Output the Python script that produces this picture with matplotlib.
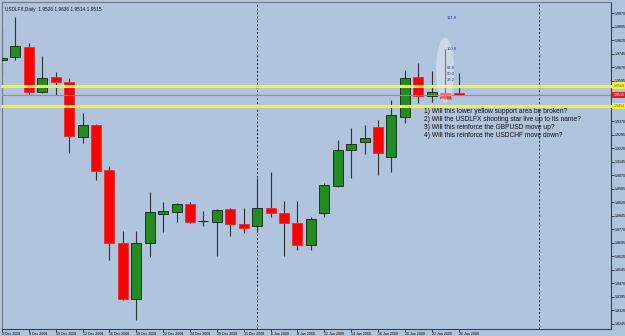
import numpy as np
import matplotlib.pyplot as plt
from matplotlib.patches import Ellipse

# daily bars, USDLFX
opens  = [1.9712, 1.9726, 1.9782, 1.9532, 1.9615, 1.9587, 1.9282, 1.9348, 1.9098, 1.8693,
          1.8382, 1.8693, 1.8854, 1.8865, 1.8909, 1.8815, 1.8809, 1.8882, 1.8798, 1.8787,
          1.8887, 1.8859, 1.8804, 1.8682, 1.8859, 1.9009, 1.9209, 1.9254, 1.9337, 1.9171,
          1.9393, 1.9615, 1.9509, 1.9526, 1.9526]
highs  = [1.9887, 1.9948, 1.9804, 1.9732, 1.9643, 1.9609, 1.9415, 1.9354, 1.9121, 1.8759,
          1.8759, 1.8976, 1.8921, 1.8915, 1.8921, 1.8871, 1.8882, 1.8887, 1.8887, 1.9054,
          1.9087, 1.8926, 1.8926, 1.8837, 1.9026, 1.9265, 1.9332, 1.9348, 1.9376, 1.9487,
          1.9654, 1.9693, 1.9648, 1.9771, 1.9636]
lows   = [1.9615, 1.9709, 1.9521, 1.9526, 1.9515, 1.9193, 1.9248, 1.9043, 1.8598, 1.8376,
          1.8265, 1.8615, 1.8754, 1.8809, 1.8804, 1.8787, 1.8621, 1.8732, 1.8748, 1.8754,
          1.8837, 1.8621, 1.8654, 1.8654, 1.8837, 1.9004, 1.9054, 1.9187, 1.9071, 1.9087,
          1.9359, 1.9471, 1.9476, 1.9493, 1.9514]
closes = [1.9723, 1.9787, 1.9532, 1.9609, 1.9587, 1.9287, 1.9348, 1.9093, 1.8693, 1.8382,
          1.8693, 1.8865, 1.8871, 1.8909, 1.8809, 1.8815, 1.8876, 1.8798, 1.8776, 1.8887,
          1.8859, 1.8804, 1.8682, 1.8826, 1.9015, 1.9209, 1.9243, 1.9276, 1.9193, 1.9404,
          1.9609, 1.9509, 1.9532, 1.9498, 1.9515]

date_labels = ['4 Dec 2008', '8 Dec 2008', '10 Dec 2008', '12 Dec 2008', '16 Dec 2008',
               '18 Dec 2008', '22 Dec 2008', '24 Dec 2008', '29 Dec 2008', '31 Dec 2008',
               '6 Jan 2009', '8 Jan 2009', '12 Jan 2009', '14 Jan 2009', '16 Jan 2009',
               '20 Jan 2009', '22 Jan 2009', '26 Jan 2009']

support_top = 1.9568
support_bottom = 1.9454
bid = 1.9515

fib_low = 1.9493
fib_high = 1.9771
fib_levels = [0.0, 38.2, 50.0, 61.8, 100.0, 161.8]

questions = ["1) Will this lower yellow support area be broken?",
             "2) Will the USDLFX shooting star live up to its name?",
             "3) Will this reinforce the GBPUSD move up?",
             "4) Will this reinforce the USDCHF move down?"]

bg = '#b0c4de'
plt.rcParams['font.family'] = ['Liberation Sans', 'DejaVu Sans']
fig = plt.figure(figsize=(6.25, 3.36), dpi=100, facecolor=bg)
ax = fig.add_axes([2/625, 7/336, 609/625, 327/336], facecolor=bg)

o = np.array(opens); c = np.array(closes)
h = np.array(highs); l = np.array(lows)
x = np.arange(len(o))

up = c > o
down = c < o
flat = c == o

ax.vlines(x, l, h, color='#303030', lw=0.8, zorder=2)
ax.bar(x[up], (c - o)[up], bottom=o[up], width=0.75, color='#228b22',
       edgecolor='#102010', lw=0.6, zorder=3)
ax.bar(x[down], (o - c)[down], bottom=c[down], width=0.75, color='#ff0000',
       edgecolor='#e03030', lw=0.6, zorder=3)
ax.hlines(o[flat], x[flat] - 0.37, x[flat] + 0.37, color='#202020', lw=0.8, zorder=3)

# support zone + bid line
for lvl in [support_top, support_bottom]:
    ax.axhline(lvl, xmin=0, xmax=1.03, color='#f2f23a', lw=2.2, clip_on=False, zorder=4)
ax.axhline(bid, color='#c87585', lw=0.8, zorder=4)

# period separators
ax.axvline(19, color='#202020', lw=0.7, ls=(0, (2, 2)), zorder=1)
ax.axvline(40, color='#202020', lw=0.7, ls=(0, (2, 2)), zorder=1)

# shooting star highlight
ax.add_patch(Ellipse((33, 1.9654), 1.35, 0.036, facecolor='white', alpha=0.35,
                     edgecolor='none', zorder=5))
for lev in fib_levels:
    p = fib_low + (fib_high - fib_low) * lev / 100
    ax.text(33.1, p, f'{lev:.1f}', fontsize=3.0, color='#2030a0', ha='left',
            va='center', zorder=6)

for i, q in enumerate(questions):
    ax.text(31.4, 1.9425 - i * 0.0045, q, fontsize=4.8, color='#101010', va='center', zorder=6)

ax.text(0.005, 0.985, 'USDLFX,Daily  1.9526 1.9636 1.9514 1.9515', transform=ax.transAxes,
        fontsize=3.4, color='#101010', va='top', ha='left')

ax.set_xlim(0.074, 45.35)
ax.set_ylim(1.8215, 2.0032)

ax.set_xticks(x[::2])
ax.set_xticklabels(date_labels, fontsize=2.6, ha='left')
ax.tick_params(axis='x', length=2, pad=0.5, width=0.5)

yticks = np.round(1.9970 - 0.0075 * np.arange(24), 4)
ax.yaxis.tick_right()
ax.set_yticks(yticks)
ax.set_yticklabels([f'{v:.4f}' for v in yticks], fontsize=2.6)
ax.tick_params(axis='y', length=2, pad=0.8, width=0.5)

# price boxes on the axis
for lvl, fc in [(support_top, '#f2f23a'), (support_bottom, '#f2f23a'), (bid, '#e02020')]:
    ax.text(1.004, lvl, f'{lvl:.4f}', transform=ax.get_yaxis_transform(), fontsize=2.6,
            color='white' if fc != '#f2f23a' else '#606060', va='center', ha='left',
            bbox=dict(boxstyle='square,pad=0.3', fc=fc, ec='none'), zorder=7, clip_on=False)

for s in ['left', 'top']:
    ax.spines[s].set_color('#707880')
    ax.spines[s].set_linewidth(0.8)
for s in ['right', 'bottom']:
    ax.spines[s].set_color('#404040')
    ax.spines[s].set_linewidth(0.8)

fig.savefig('out.png', dpi=100, facecolor=bg)
